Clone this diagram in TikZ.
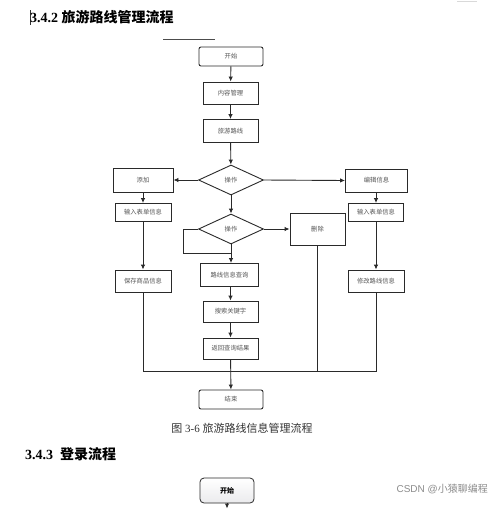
\documentclass[tikz,border=0pt]{standalone}
\usepackage{fontspec}
\setmainfont{Liberation Serif}
\newfontfamily\cjk{Noto Sans CJK SC}
\usetikzlibrary{shapes.geometric,arrows.meta}
\definecolor{ln}{HTML}{2A2A2A}
\definecolor{tx}{HTML}{555555}
\begin{document}
\begin{tikzpicture}[x=1pt,y=-1pt,
  box/.style={draw=ln,line width=0.9pt,inner sep=0pt,font=\cjk\fontsize{6.3}{7}\selectfont,text=tx},
  term/.style={box,rounded corners=2pt},
  dia/.style={diamond,draw=ln,line width=0.9pt,aspect=2.2,minimum width=65pt,minimum height=30pt,inner sep=0pt,font=\cjk\fontsize{6.3}{7}\selectfont,text=tx},
  arr/.style={-{Latex[length=5pt,width=4.5pt]},line width=0.9pt,draw=ln},
  lnk/.style={line width=0.9pt,draw=ln}]
\useasboundingbox[fill=white] (0,0) rectangle (499,509);
% headings
\draw[line width=0.6pt,black!80] (30,10) -- (30,25);
\node[anchor=west,inner sep=0pt,font=\fontsize{14}{16}\selectfont\bfseries] (h1) at (30,17) {3.4.2 {\cjk\bfseries 旅游路线管理流程}};
\draw[line width=1pt,black!70] (163,39) -- (215,39);
\draw[line width=0.6pt,black!15] (457,1) -- (477,1);
% flowchart
\node[term,minimum width=64pt,minimum height=19pt] (start) at (231,56.5) {开始};
\node[box,minimum width=55pt,minimum height=22pt] (m1) at (230.5,93) {内容管理};
\node[box,minimum width=55pt,minimum height=23pt] (m2) at (230.5,131) {旅游路线};
\node[dia] (d1) at (231,180) {操作};
\node[box,minimum width=60pt,minimum height=24pt] (add) at (143,180) {添加};
\node[box,minimum width=62pt,minimum height=23pt] (edit) at (376.5,180.5) {编辑信息};
\node[box,minimum width=56pt,minimum height=18pt] (inL) at (143,212.5) {输入表单信息};
\node[box,minimum width=55pt,minimum height=18pt] (inR) at (376,212.5) {输入表单信息};
\node[dia] (d2) at (231,229) {操作};
\node[box,minimum width=55pt,minimum height=32pt] (del) at (317.5,229) {删除};
\node[box,minimum width=56pt,minimum height=22pt] (save) at (143,281) {保存商品信息};
\node[box,minimum width=58pt,minimum height=23pt] (query) at (229.5,275) {路线信息查询};
\node[box,minimum width=56pt,minimum height=22pt] (mod) at (376,281) {修改路线信息};
\node[box,minimum width=55pt,minimum height=21pt] (kw) at (230.5,311.5) {搜索关键字};
\node[box,minimum width=55pt,minimum height=21pt] (ret) at (230.5,348.5) {返回查询结果};
\node[term,minimum width=64pt,minimum height=19pt] (end) at (231,399.5) {结束};
\coordinate (jl) at (143,371);
\coordinate (jr) at (376,371);
\coordinate (jd) at (317.5,371);
\coordinate (lp) at (183,253);
% connectors
\draw[arr] (start) -- (m1);
\draw[arr] (m1) -- (m2);
\draw[arr] (m2) -- (d1);
\draw[arr] (d1.west) -- (add.east);
\draw[arr] (d1.east) -- (edit.west);
\draw[arr] (add) -- (inL);
\draw[arr] (edit.south -| inR) -- (inR);
\draw[arr] (d1) -- (d2);
\draw[arr] (d2.east) -- (del.west);
\draw[arr] (inL) -- (save);
\draw[arr] (inR) -- (mod);
\draw[arr] (d2.south) -- (d2.south |- query.north);
\draw[lnk] (d2.west) -| (lp) -- (lp -| d2.south);
\draw[arr] (query.south -| kw) -- (kw);
\draw[arr] (kw) -- (ret);
\draw[lnk] (save) -- (jl) -- (jr) -- (mod);
\draw[lnk] (del) -- (jd);
\draw[arr] (ret) -- (end);
% caption and next section
\node[inner sep=0pt,font=\fontsize{11}{13}\selectfont,text=black!80] (cap) at (242,428) {{\cjk 图} 3-6 {\cjk 旅游路线信息管理流程}};
\node[anchor=west,inner sep=0pt,font=\fontsize{14}{16}\selectfont\bfseries] (h2) at (25,454) {3.4.3\ \ {\cjk\bfseries 登录流程}};
\node[draw=ln,line width=0.8pt,rounded corners=4pt,minimum width=54pt,minimum height=25pt,inner sep=0pt,top color=white,bottom color=blue!6!gray!15,font=\cjk\fontsize{7}{8}\selectfont\bfseries] (s2) at (227,490.5) {开始};
\coordinate (s2b) at (227,508.5);
\draw[arr] (s2) -- (s2b);
\node[anchor=east,inner sep=0pt,font=\fontsize{10}{12}\sffamily,text=black!45] (wm) at (488,489) {\fontspec{Liberation Sans}CSDN @{\cjk 小猿聊编程}};
\end{tikzpicture}
\end{document}
